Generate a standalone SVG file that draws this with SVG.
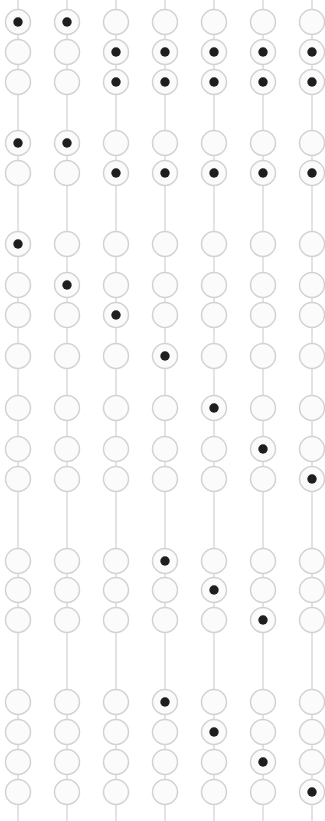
<svg xmlns="http://www.w3.org/2000/svg" width="325" height="821" viewBox="0 0 325 821">
<style>
.l{stroke:#dadada;stroke-width:1.5}
.c{fill:#fbfbfb;stroke:#d2d2d2;stroke-width:1.5}
.d{fill:#1e1e1e}
</style>
<defs>
<circle id="e" r="12.5" class="c"/>
<g id="f"><circle r="12.5" class="c"/><circle r="4.7" class="d"/></g>
</defs>
<rect width="325" height="821" fill="#fff"/>
<g id="connectors">
<line class="l" x1="18" y1="0" x2="18" y2="821"/>
<line class="l" x1="67" y1="0" x2="67" y2="821"/>
<line class="l" x1="116" y1="0" x2="116" y2="821"/>
<line class="l" x1="165" y1="0" x2="165" y2="821"/>
<line class="l" x1="214" y1="0" x2="214" y2="821"/>
<line class="l" x1="263" y1="0" x2="263" y2="821"/>
<line class="l" x1="312" y1="0" x2="312" y2="821"/>
</g>
<g id="r1"><use href="#f" x="18" y="22"/><use href="#f" x="67" y="22"/><use href="#e" x="116" y="22"/><use href="#e" x="165" y="22"/><use href="#e" x="214" y="22"/><use href="#e" x="263" y="22"/><use href="#e" x="312" y="22"/></g>
<g id="r2"><use href="#e" x="18" y="52"/><use href="#e" x="67" y="52"/><use href="#f" x="116" y="52"/><use href="#f" x="165" y="52"/><use href="#f" x="214" y="52"/><use href="#f" x="263" y="52"/><use href="#f" x="312" y="52"/></g>
<g id="r3"><use href="#e" x="18" y="82"/><use href="#e" x="67" y="82"/><use href="#f" x="116" y="82"/><use href="#f" x="165" y="82"/><use href="#f" x="214" y="82"/><use href="#f" x="263" y="82"/><use href="#f" x="312" y="82"/></g>
<g id="r4"><use href="#f" x="18" y="143"/><use href="#f" x="67" y="143"/><use href="#e" x="116" y="143"/><use href="#e" x="165" y="143"/><use href="#e" x="214" y="143"/><use href="#e" x="263" y="143"/><use href="#e" x="312" y="143"/></g>
<g id="r5"><use href="#e" x="18" y="173"/><use href="#e" x="67" y="173"/><use href="#f" x="116" y="173"/><use href="#f" x="165" y="173"/><use href="#f" x="214" y="173"/><use href="#f" x="263" y="173"/><use href="#f" x="312" y="173"/></g>
<g id="r6"><use href="#f" x="18" y="244"/><use href="#e" x="67" y="244"/><use href="#e" x="116" y="244"/><use href="#e" x="165" y="244"/><use href="#e" x="214" y="244"/><use href="#e" x="263" y="244"/><use href="#e" x="312" y="244"/></g>
<g id="r7"><use href="#e" x="18" y="285"/><use href="#f" x="67" y="285"/><use href="#e" x="116" y="285"/><use href="#e" x="165" y="285"/><use href="#e" x="214" y="285"/><use href="#e" x="263" y="285"/><use href="#e" x="312" y="285"/></g>
<g id="r8"><use href="#e" x="18" y="315"/><use href="#e" x="67" y="315"/><use href="#f" x="116" y="315"/><use href="#e" x="165" y="315"/><use href="#e" x="214" y="315"/><use href="#e" x="263" y="315"/><use href="#e" x="312" y="315"/></g>
<g id="r9"><use href="#e" x="18" y="356"/><use href="#e" x="67" y="356"/><use href="#e" x="116" y="356"/><use href="#f" x="165" y="356"/><use href="#e" x="214" y="356"/><use href="#e" x="263" y="356"/><use href="#e" x="312" y="356"/></g>
<g id="r10"><use href="#e" x="18" y="408"/><use href="#e" x="67" y="408"/><use href="#e" x="116" y="408"/><use href="#e" x="165" y="408"/><use href="#f" x="214" y="408"/><use href="#e" x="263" y="408"/><use href="#e" x="312" y="408"/></g>
<g id="r11"><use href="#e" x="18" y="449"/><use href="#e" x="67" y="449"/><use href="#e" x="116" y="449"/><use href="#e" x="165" y="449"/><use href="#e" x="214" y="449"/><use href="#f" x="263" y="449"/><use href="#e" x="312" y="449"/></g>
<g id="r12"><use href="#e" x="18" y="479"/><use href="#e" x="67" y="479"/><use href="#e" x="116" y="479"/><use href="#e" x="165" y="479"/><use href="#e" x="214" y="479"/><use href="#e" x="263" y="479"/><use href="#f" x="312" y="479"/></g>
<g id="r13"><use href="#e" x="18" y="561"/><use href="#e" x="67" y="561"/><use href="#e" x="116" y="561"/><use href="#f" x="165" y="561"/><use href="#e" x="214" y="561"/><use href="#e" x="263" y="561"/><use href="#e" x="312" y="561"/></g>
<g id="r14"><use href="#e" x="18" y="590"/><use href="#e" x="67" y="590"/><use href="#e" x="116" y="590"/><use href="#e" x="165" y="590"/><use href="#f" x="214" y="590"/><use href="#e" x="263" y="590"/><use href="#e" x="312" y="590"/></g>
<g id="r15"><use href="#e" x="18" y="620"/><use href="#e" x="67" y="620"/><use href="#e" x="116" y="620"/><use href="#e" x="165" y="620"/><use href="#e" x="214" y="620"/><use href="#f" x="263" y="620"/><use href="#e" x="312" y="620"/></g>
<g id="r16"><use href="#e" x="18" y="702"/><use href="#e" x="67" y="702"/><use href="#e" x="116" y="702"/><use href="#f" x="165" y="702"/><use href="#e" x="214" y="702"/><use href="#e" x="263" y="702"/><use href="#e" x="312" y="702"/></g>
<g id="r17"><use href="#e" x="18" y="732"/><use href="#e" x="67" y="732"/><use href="#e" x="116" y="732"/><use href="#e" x="165" y="732"/><use href="#f" x="214" y="732"/><use href="#e" x="263" y="732"/><use href="#e" x="312" y="732"/></g>
<g id="r18"><use href="#e" x="18" y="762"/><use href="#e" x="67" y="762"/><use href="#e" x="116" y="762"/><use href="#e" x="165" y="762"/><use href="#e" x="214" y="762"/><use href="#f" x="263" y="762"/><use href="#e" x="312" y="762"/></g>
<g id="r19"><use href="#e" x="18" y="792"/><use href="#e" x="67" y="792"/><use href="#e" x="116" y="792"/><use href="#e" x="165" y="792"/><use href="#e" x="214" y="792"/><use href="#e" x="263" y="792"/><use href="#f" x="312" y="792"/></g>
</svg>
